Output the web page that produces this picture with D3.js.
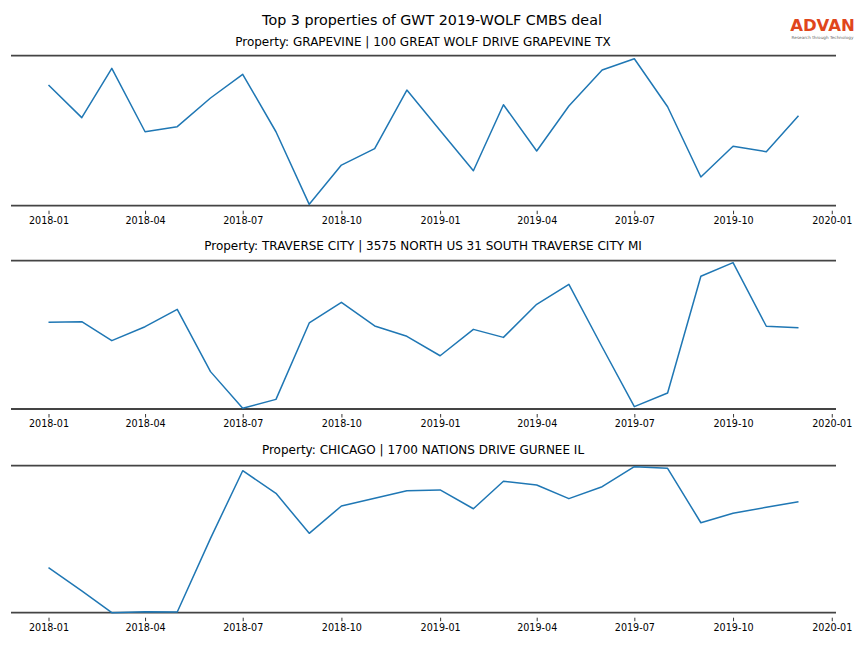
<!DOCTYPE html>
<html><head><meta charset="utf-8">
<script src="https://cdn.jsdelivr.net/npm/d3@7"></script>
<style>body{margin:0;background:#fff}svg{display:block}text{font-family:"DejaVu Sans",sans-serif}</style>
</head><body><svg id="c" width="864" height="648"></svg>
<script>
const months = ["2018-01","2018-02","2018-03","2018-04","2018-05","2018-06","2018-07","2018-08","2018-09","2018-10","2018-11","2018-12",
"2019-01","2019-02","2019-03","2019-04","2019-05","2019-06","2019-07","2019-08","2019-09","2019-10","2019-11","2019-12"];
const tickLabels = ["2018-01","2018-04","2018-07","2018-10","2019-01","2019-04","2019-07","2019-10","2020-01"];
const chartTitle = "Top 3 properties of GWT 2019-WOLF CMBS deal";
const propertyTitles = [
 "Property: GRAPEVINE | 100 GREAT WOLF DRIVE GRAPEVINE TX",
 "Property: TRAVERSE CITY | 3575 NORTH US 31 SOUTH TRAVERSE CITY MI",
 "Property: CHICAGO | 1700 NATIONS DRIVE GURNEE IL"];
// relative visit index (0 = panel minimum, 100 = panel maximum)
const grapevine = [80.5,58.7,91.6,49.3,52.7,71.8,87.6,49.3,0.9,27.1,38.0,77.1,50.1,23.3,67.3,36.5,66.5,90.5,98.0,66.0,19.1,39.6,36.0,60.0];
const traverse = [58.5,58.9,46.1,55.5,67.2,25.2,0.5,6.5,58.0,71.9,56.0,49.0,35.9,53.7,48.3,70.6,84.1,41.8,1.6,10.8,89.5,98.7,55.8,54.8];
const chicago = [30.6,14.8,0.0,0.7,0.5,50.6,96.6,81.2,54.0,72.6,77.8,83.0,83.5,70.7,89.4,86.9,77.6,85.7,99.3,98.2,61.2,67.6,71.7,75.5];
const series = [grapevine, traverse, chicago];

const svg = d3.select("#c");
const parse = d3.timeParse("%Y-%m");
const dates = months.map(parse);
const span = dates[dates.length-1] - dates[0];
const x = d3.scaleTime()
  .domain([new Date(+dates[0] - span*0.05), new Date(+dates[dates.length-1] + span*0.05)])
  .range([11, 836]);

const panels = [{top:55.7,bottom:205.7,title:42},{top:260.7,bottom:409,title:246},{top:465.7,bottom:612.7,title:450}];

svg.append("text").attr("x",432).attr("y",24.5).attr("text-anchor","middle")
  .attr("font-size",14.3).attr("fill","#000").text(chartTitle);

panels.forEach((p,i)=>{
  const y = d3.scaleLinear().domain([0,100]).range([p.bottom,p.top]);
  const g = svg.append("g");
  g.append("text").attr("x",423).attr("y",p.title+4.3).attr("text-anchor","middle")
    .attr("font-size",12).attr("fill","#000").text(propertyTitles[i]);
  [p.top,p.bottom].forEach(yy=>g.append("line").attr("x1",11).attr("x2",836)
    .attr("y1",yy).attr("y2",yy).attr("stroke","#444").attr("stroke-width",1.8));
  const axis = d3.axisBottom(x).tickValues(tickLabels.map(parse))
    .tickFormat(d3.timeFormat("%Y-%m")).tickSize(3.5).tickPadding(3);
  const ag = g.append("g").attr("transform",`translate(0,${p.bottom+5})`).call(axis);
  ag.select(".domain").remove();
  ag.selectAll("text").attr("font-size",9.6).attr("font-family","DejaVu Sans").attr("fill","#000");
  ag.selectAll("line").attr("stroke","#000").attr("stroke-width",0.8);
  const line = d3.line().x((d,j)=>x(dates[j])).y(d=>y(d));
  g.append("path").datum(series[i]).attr("d",line).attr("fill","none")
    .attr("stroke","#1f77b4").attr("stroke-width",1.5).attr("stroke-linejoin","round");
});

// logo
svg.append("text").attr("x",822.5).attr("y",31).attr("text-anchor","middle")
  .attr("font-size",16.5).attr("font-weight","bold").attr("font-family","Liberation Sans, Arial")
  .attr("fill","#e0461c").text("ADVAN");
svg.append("text").attr("x",822.5).attr("y",38.5).attr("text-anchor","middle")
  .attr("font-size",4.2).attr("fill","#666").text("Research through Technology");
</script></body></html>
